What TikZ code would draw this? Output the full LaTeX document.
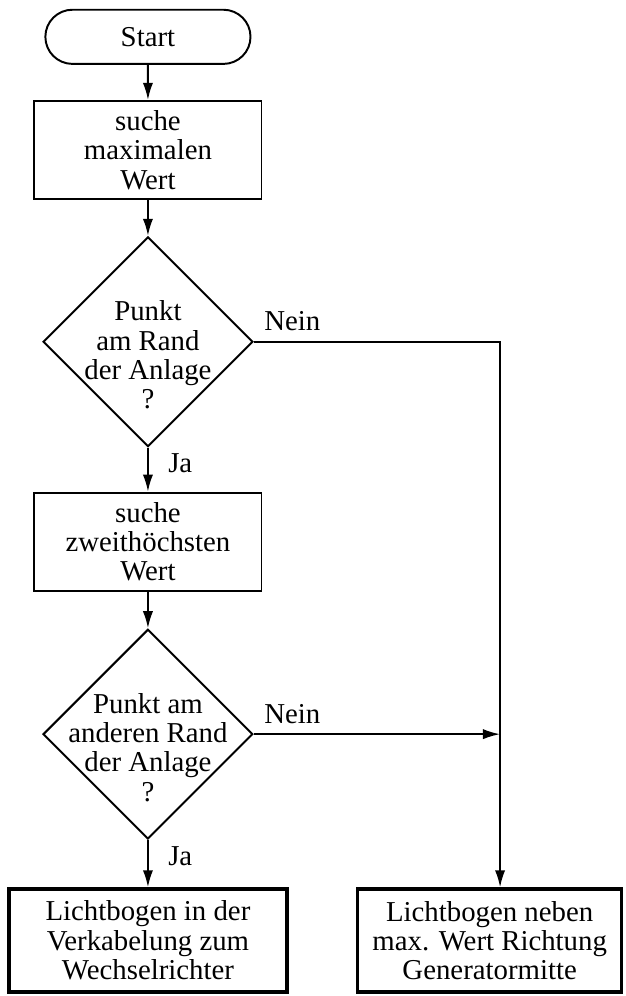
\documentclass[tikz,border=0pt]{standalone}
\usepackage{fontspec}
\setmainfont[Scale=1.18]{Liberation Serif}
\usetikzlibrary{shapes.geometric,shapes.misc,arrows.meta}
\newcommand{\abstand}{\rule{0pt}{19pt}}

\begin{document}
\begin{tikzpicture}[thick,
  pfeil/.style={-{Latex[length=7pt,width=4.2pt]}},
  box/.style={rectangle,draw,align=center,minimum width=3.27cm,minimum height=1.4cm},
  frage/.style={diamond,draw,align=center,minimum size=3.02cm,inner sep=-10pt},
  ende/.style={rectangle,draw,align=center,line width=1.4pt,minimum height=1.48cm}]
\useasboundingbox (-2.13,0.53) rectangle (6.88,-13.81);

\node (start) [rounded rectangle,draw,minimum width=3.23cm,minimum height=0.78cm] {Start};
\node (max) [box,below of=start,node distance=1.63cm] {suche\\maximalen\\Wert};
\node (rand) [frage,below of=max,node distance=2.76cm] {\abstand Punkt\\am Rand\\der Anlage\\?};
\node (zweit) [box,below of=rand,node distance=2.88cm] {suche\\zweithöchsten\\Wert};
\node (anders) [frage,below of=zweit,node distance=2.77cm] {\abstand Punkt am\\anderen Rand\\der Anlage\\?};

% Ergebnisse
\node (kabel) [ende,below of=anders,node distance=2.97cm,minimum width=4cm] {Lichtbogen in der\\Verkabelung zum\\Wechselrichter};
\node (neben) [ende,right of=kabel,node distance=4.92cm,minimum width=3.8cm] {Lichtbogen neben\\max. Wert Richtung\\Generatormitte};
\coordinate [right of=rand,node distance=5.07cm] (knick);

\draw[pfeil] (start) -- (max);
\draw[pfeil] (max) -- (rand);
\draw[pfeil] (rand) -- node[pos=0.35,right=4pt] {Ja} (zweit);
\draw[pfeil] (zweit) -- (anders);
\draw[pfeil] (anders) -- node[pos=0.35,right=4pt] {Ja} (kabel);

% Nein-Zweige
\draw[pfeil] (rand.east) -- node[pos=0,anchor=south west] {Nein} (knick) -- (knick |- neben.north);
\draw[pfeil] (anders.east) -- node[pos=0,anchor=south west] {Nein} (anders.east -| knick);
\end{tikzpicture}
\end{document}
